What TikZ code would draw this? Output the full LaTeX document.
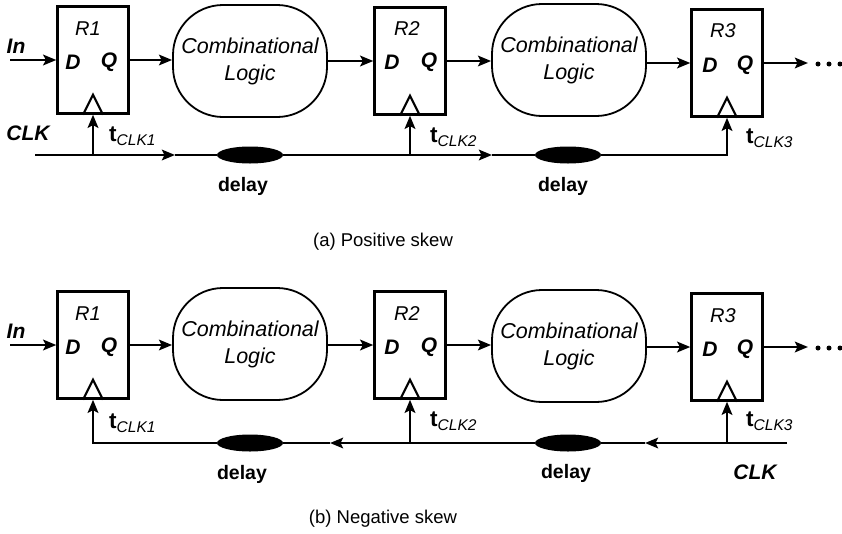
\documentclass[tikz,border=0pt]{standalone}
\usepackage{fontspec}
\setmainfont{Liberation Sans}
\usetikzlibrary{arrows.meta,shapes.geometric}
\newcommand{\tclk}[1]{t\raisebox{-4.5pt}{\fontsize{15.5}{16}\selectfont\mdseries\itshape CLK#1}}
\begin{document}
\begin{tikzpicture}[x=1pt,y=-1pt,
  reg/.style={draw,line width=2.4pt,minimum width=71pt,minimum height=107pt,inner sep=0pt},
  comb/.style={draw,line width=1.8pt,rounded corners=50pt,minimum width=154pt,minimum height=112pt,
    inner sep=0pt,align=center,font=\fontsize{21.5}{27}\selectfont\itshape},
  dly/.style={ellipse,fill=black,minimum width=66pt,minimum height=17pt,inner sep=0pt},
  sig/.style={line width=2.8pt,-{Stealth[length=13pt,width=10.5pt,inset=2.5pt]}},
  wire/.style={line width=2.8pt},
  tri/.style={line width=2.1pt,line join=miter},
  rlab/.style={font=\fontsize{20}{21}\selectfont\itshape,inner sep=0pt},
  pin/.style={font=\fontsize{21}{22}\selectfont\bfseries\itshape,inner sep=0pt},
  tlab/.style={anchor=west,inner sep=0pt,font=\fontsize{22.5}{23}\selectfont\bfseries},
  dlab/.style={font=\fontsize{19.5}{20}\selectfont\bfseries,inner sep=0pt},
  clk/.style={font=\fontsize{21}{22}\selectfont\bfseries\itshape,inner sep=0pt},
  captext/.style={font=\fontsize{18.5}{20}\selectfont,inner sep=0pt},
  dot/.style={circle,fill=black,inner sep=0pt,minimum size=5pt},
]
\useasboundingbox (0,0) rectangle (842,533);

% ---------------- (a) positive skew ----------------
\node[reg] (ra1) at (93,60) {};
\node[reg] (ra2) at (410,61) {};
\node[reg] (ra3) at (727,63) {};
\node[comb] (ca1) at (250,61) {Combinational\\Logic};
\node[comb] (ca2) at (569,60) {Combinational\\Logic};

\node[rlab] (la1) at (88,29) {R1};
\node[rlab] (la2) at (407,29) {R2};
\node[rlab] (la3) at (723,31) {R3};
\node[pin] (da1) at (73,62) {D};
\node[pin] (qa1) at (109,62) {Q};
\node[pin] (da2) at (392,62) {D};
\node[pin] (qa2) at (429,62) {Q};
\node[pin] (da3) at (710,65) {D};
\node[pin] (qa3) at (745,65) {Q};

% clock triangles
\foreach \r in {ra1,ra2,ra3}
  \draw[tri] (\r.south) ++(-10pt,0) -- ++(10pt,20pt) -- ++(10pt,-20pt);

% data path
\node[pin] (ina) at (16,46) {In};
\coordinate (ia) at (10,60);
\draw[sig] (ia) -- (ra1.west);
\draw[sig] (ra1.east) -- (ra1.east -| ca1.west);
\draw[sig] (ca1.east |- ra2.west) -- (ra2.west);
\draw[sig] (ra2.east) -- (ra2.east -| ca2.west);
\draw[sig] (ca2.east |- ra3.west) -- (ra3.west);
\coordinate (oa) at (808,63);
\draw[sig] (ra3.east) -- (oa);
\node[dot] (pa1) at (818,64) {};
\node[dot] (pa2) at (829,64) {};
\node[dot] (pa3) at (840,64) {};

% clock distribution
\node[dly] (ea1) at (250,155) {};
\node[dly] (ea2) at (568,155) {};
\coordinate (csa) at (35,155);
\coordinate (aa1) at (175,155);
\coordinate (aa2) at (492,155);
\coordinate (ja1) at (93,155);
\coordinate (ja2) at (410,155);
\coordinate (ja3) at (727,155);
\draw[sig] (csa) -- (aa1);
\draw[wire] (aa1) -- (ea1.west);
\draw[sig] (ea1.east) -- (aa2);
\draw[wire] (aa2) -- (ea2.west);
\draw[sig] (ea2.east) -- (ja3) -- (ra3.south);
\draw[sig] (ja1) -- (ra1.south);
\draw[sig] (ja2) -- (ra2.south);

\node[clk] (ka) at (28,133) {CLK};
\node[tlab] (ta1) at (109,136) {\tclk{1}};
\node[tlab] (ta2) at (430,137) {\tclk{2}};
\node[tlab] (ta3) at (746,138) {\tclk{3}};
\node[dlab] (ya1) at (243,186) {delay};
\node[dlab] (ya2) at (563,186) {delay};
\node[captext] (capa) at (383,242) {(a) Positive skew};

% ---------------- (b) negative skew ----------------
\node[reg] (rb1) at (93,345) {};
\node[reg] (rb2) at (410,345) {};
\node[reg] (rb3) at (727,347) {};
\node[comb] (cb1) at (250,344) {Combinational\\Logic};
\node[comb] (cb2) at (569,346) {Combinational\\Logic};

\node[rlab] (lb1) at (88,314) {R1};
\node[rlab] (lb2) at (407,314) {R2};
\node[rlab] (lb3) at (723,316) {R3};
\node[pin] (db1) at (73,347) {D};
\node[pin] (qb1) at (109,347) {Q};
\node[pin] (db2) at (392,347) {D};
\node[pin] (qb2) at (429,347) {Q};
\node[pin] (db3) at (710,349) {D};
\node[pin] (qb3) at (745,349) {Q};

\foreach \r in {rb1,rb2,rb3}
  \draw[tri] (\r.south) ++(-10pt,0) -- ++(10pt,20pt) -- ++(10pt,-20pt);

\node[pin] (inb) at (16,331) {In};
\coordinate (ib) at (10,345);
\draw[sig] (ib) -- (rb1.west);
\draw[sig] (rb1.east) -- (rb1.east -| cb1.west);
\draw[sig] (cb1.east |- rb2.west) -- (rb2.west);
\draw[sig] (rb2.east) -- (rb2.east -| cb2.west);
\draw[sig] (cb2.east |- rb3.west) -- (rb3.west);
\coordinate (ob) at (808,347);
\draw[sig] (rb3.east) -- (ob);
\node[dot] (pb1) at (818,348) {};
\node[dot] (pb2) at (829,348) {};
\node[dot] (pb3) at (840,348) {};

\node[dly] (eb1) at (250,443) {};
\node[dly] (eb2) at (568,443) {};
\coordinate (csb) at (787,443);
\coordinate (ab2) at (645,443);
\coordinate (ab1) at (330,443);
\coordinate (jb1) at (93,443);
\coordinate (jb2) at (410,443);
\coordinate (jb3) at (727,443);
\draw[sig] (csb) -- (ab2);
\draw[wire] (ab2) -- (eb2.east);
\draw[sig] (eb2.west) -- (ab1);
\draw[wire] (ab1) -- (eb1.east);
\draw[sig] (eb1.west) -- (jb1) -- (rb1.south);
\draw[sig] (jb2) -- (rb2.south);
\draw[sig] (jb3) -- (rb3.south);

\node[tlab] (tb1) at (109,423) {\tclk{1}};
\node[tlab] (tb2) at (430,421) {\tclk{2}};
\node[tlab] (tb3) at (746,421) {\tclk{3}};
\node[dlab] (yb1) at (242,474) {delay};
\node[dlab] (yb2) at (566,473) {delay};
\node[clk] (kb) at (755,472) {CLK};
\node[captext] (capb) at (383,519) {(b) Negative skew};
\end{tikzpicture}
\end{document}
